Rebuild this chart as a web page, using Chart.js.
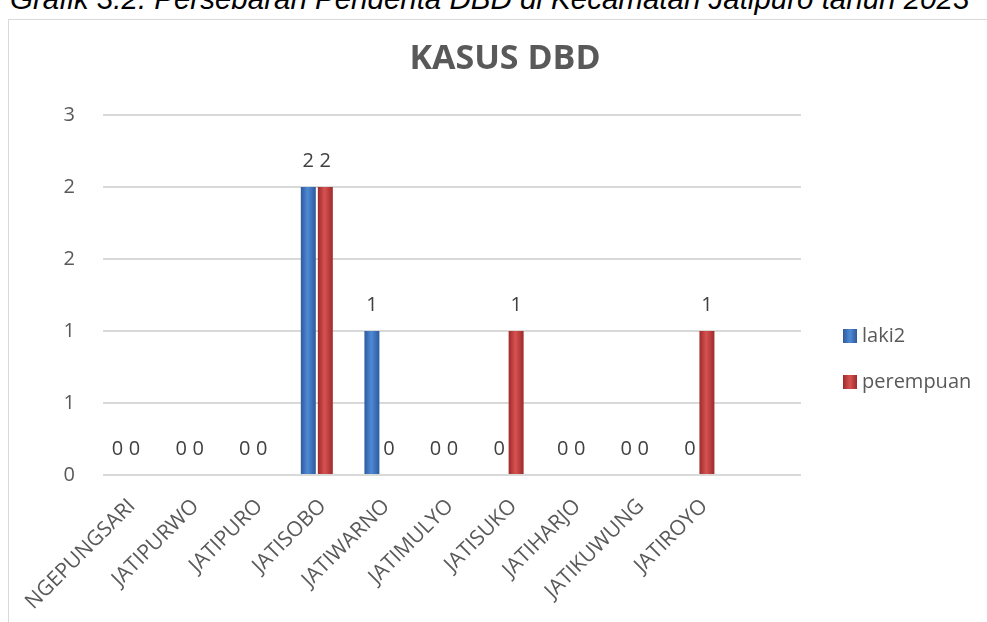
<!DOCTYPE html>
<html>
<head>
<meta charset="utf-8">
<script src="https://cdn.jsdelivr.net/npm/chart.js@4/dist/chart.umd.min.js"></script>
<style>
  html, body { margin:0; padding:0; background:#fff; width:987px; height:622px; overflow:hidden; }
  #cap { position:absolute; left:10px; top:-16px; font:italic 29.5px "Liberation Sans", Arial, sans-serif; line-height:29.5px; color:#000; white-space:nowrap; }
  #frame { position:absolute; left:8px; top:19px; width:1200px; height:900px; border:1px solid #d9d9d9; box-sizing:border-box; }
  #wrap { position:absolute; left:0; top:0; width:987px; height:622px; }
</style>
</head>
<body>
<div id="cap">Grafik 3.2. Persebaran Penderita DBD di Kecamatan Jatipuro tahun 2023</div>
<div id="frame"></div>
<div id="wrap"><canvas id="c" width="987" height="622"></canvas></div>
<script>
const chartTitle = 'KASUS DBD';
const categories = ['NGEPUNGSARI','JATIPURWO','JATIPURO','JATISOBO','JATIWARNO','JATIMULYO','JATISUKO','JATIHARJO','JATIKUWUNG','JATIROYO'];
const laki2 = [0,0,0,2,1,0,0,0,0,0];
const perempuan = [0,0,0,2,0,0,1,0,0,1];
const seriesNames = ['laki2','perempuan'];
const yTickLabels = ['0','1','1','2','2','3'];

const CAT_PCT = 0.535, BAR_PCT = 0.88;
const palettes = [
  { base:'#3b6fbd', dark:'#2c5a9e', light:'#5089d4' },
  { base:'#c23b3b', dark:'#9f2a2a', light:'#d65252' }
];

function barFill(ctx) {
  const p = palettes[ctx.datasetIndex];
  const chart = ctx.chart;
  const xs = chart.scales && chart.scales.x;
  if (ctx.type !== 'data' || !xs || !xs.width) return p.base;
  const unit = Math.abs(xs.getPixelForValue(1) - xs.getPixelForValue(0));
  const slot = unit * CAT_PCT / 2;
  const cx = xs.getPixelForValue(ctx.dataIndex) + (ctx.datasetIndex === 0 ? -slot/2 : slot/2);
  const hw = slot * BAR_PCT / 2;
  const g = chart.ctx.createLinearGradient(cx - hw, 0, cx + hw, 0);
  g.addColorStop(0, p.dark);
  g.addColorStop(0.45, p.light);
  g.addColorStop(1, p.dark);
  return g;
}

const toPoints = arr => arr.map((v, i) => ({ x: i, y: v }));

const FONT = '"Open Sans", "DejaVu Sans", sans-serif';

const extras = {
  id: 'extras',
  afterDatasetsDraw(chart) {
    const ctx = chart.ctx;
    ctx.save();
    ctx.font = '20px ' + FONT;
    ctx.fillStyle = '#404040';
    ctx.textAlign = 'center';
    ctx.textBaseline = 'middle';
    chart.data.datasets.forEach((ds, di) => {
      const meta = chart.getDatasetMeta(di);
      meta.data.forEach((el, i) => {
        const v = ds.data[i].y;
        ctx.fillText(String(v), el.x, el.y - 26);
      });
    });
    ctx.restore();
  },
  afterDraw(chart) {
    const ctx = chart.ctx;
    ctx.save();
    ctx.font = 'bold 34px ' + FONT;
    ctx.fillStyle = '#595959';
    ctx.textAlign = 'center';
    ctx.textBaseline = 'alphabetic';
    ctx.fillText(chartTitle, 505, 69);
    ctx.font = '20px ' + FONT;
    ctx.textAlign = 'left';
    ctx.textBaseline = 'middle';
    seriesNames.forEach((name, i) => {
      const y = 336 + i * 46;
      const p = palettes[i];
      const g = ctx.createLinearGradient(843, 0, 857, 0);
      g.addColorStop(0, p.dark); g.addColorStop(0.5, p.light); g.addColorStop(1, p.dark);
      ctx.fillStyle = g;
      ctx.fillRect(843, y - 7, 14, 14);
      ctx.fillStyle = '#595959';
      ctx.fillText(name, 862, y);
    });
    ctx.restore();
  }
};

new Chart(document.getElementById('c'), {
  type: 'bar',
  data: {
    datasets: [
      { label: seriesNames[0], data: toPoints(laki2), backgroundColor: barFill, borderWidth: 0 },
      { label: seriesNames[1], data: toPoints(perempuan), backgroundColor: barFill, borderWidth: 0 }
    ]
  },
  options: {
    responsive: false,
    animation: false,
    devicePixelRatio: 1,
    categoryPercentage: CAT_PCT,
    barPercentage: BAR_PCT,
    layout: { padding: { top: 115, right: 186, bottom: 0, left: 0 } },
    plugins: { legend: { display: false }, title: { display: false }, tooltip: { enabled: false } },
    scales: {
      x: {
        type: 'linear',
        offset: false,
        min: -0.362, max: 10.613,
        grid: { display: false },
        border: { display: false },
        ticks: {
          stepSize: 1, includeBounds: false, autoSkip: false,
          minRotation: 45, maxRotation: 45,
          padding: 11, labelOffset: 6,
          font: { family: FONT, size: 21 }, color: '#595959',
          callback: v => (categories[v] !== undefined ? categories[v] : '')
        },
        afterFit: s => { s.height = 147; }
      },
      y: {
        min: 0, max: 2.5,
        grid: { color: '#d9d9d9', lineWidth: 2, drawTicks: false },
        border: { display: false },
        ticks: {
          stepSize: 0.5, padding: 28,
          font: { family: FONT, size: 20 }, color: '#595959',
          callback: (v, i) => yTickLabels[i]
        },
        afterFit: s => { s.width = 103; }
      }
    }
  },
  plugins: [extras]
});
</script>
</body>
</html>
